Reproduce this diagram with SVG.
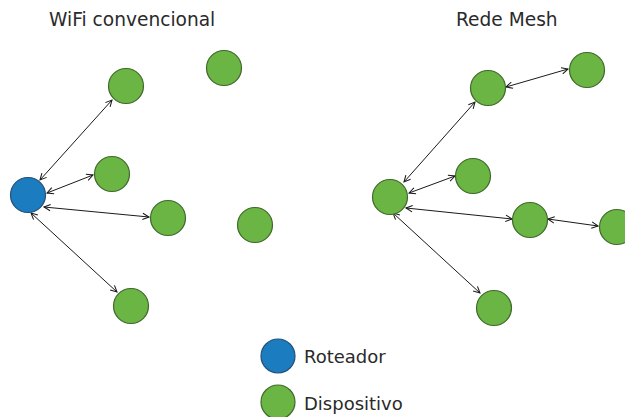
<svg xmlns="http://www.w3.org/2000/svg" width="625" height="417" viewBox="0 0 625 417">
<style>
.t{font-family:"DejaVu Sans",Verdana,sans-serif;font-size:18px;fill:#2a2a2a}
.h{font-size:18.6px}
.dev{fill:#6bb544;stroke:#3f6a2a;stroke-width:1.2}
.rt{fill:#1b7cc0;stroke:#23507a;stroke-width:1.2}
.c{stroke:#1a1a1a;stroke-width:1;fill:none;marker-start:url(#ah);marker-end:url(#ah)}
</style>
<defs>
<marker id="ah" viewBox="0 0 10 10" refX="9" refY="5" markerWidth="8" markerHeight="8" markerUnits="userSpaceOnUse" orient="auto-start-reverse">
<path d="M1,1 L9,5 L1,9" fill="none" stroke="#1a1a1a" stroke-width="1.3"/>
</marker>
</defs>
<text class="t h" x="49" y="26">WiFi convencional</text>
<text class="t h" x="456" y="26">Rede Mesh</text>
<g id="connectors">
<line class="c" x1="40" y1="180" x2="112" y2="100"/>
<line class="c" x1="47" y1="193" x2="93" y2="175"/>
<line class="c" x1="44" y1="207" x2="149" y2="217"/>
<line class="c" x1="31" y1="213" x2="117" y2="292"/>
<line class="c" x1="404" y1="182" x2="475" y2="102"/>
<line class="c" x1="409" y1="193" x2="455" y2="176"/>
<line class="c" x1="506" y1="87" x2="568" y2="69"/>
<line class="c" x1="406" y1="208" x2="512" y2="219"/>
<line class="c" x1="393" y1="213" x2="480" y2="293"/>
<line class="c" x1="548" y1="219" x2="598" y2="226"/>
</g>
<g id="router-wifi"><circle class="rt" cx="28" cy="195" r="17.5"/></g>
<g id="w1"><circle class="dev" cx="126" cy="86" r="17.5"/></g>
<g id="w2"><circle class="dev" cx="224" cy="68" r="17.5"/></g>
<g id="w3"><circle class="dev" cx="112" cy="174" r="17.5"/></g>
<g id="w4"><circle class="dev" cx="168" cy="218" r="17.5"/></g>
<g id="w5"><circle class="dev" cx="255" cy="225" r="17.5"/></g>
<g id="w6"><circle class="dev" cx="131" cy="306" r="17.5"/></g>
<g id="m0"><circle class="dev" cx="390" cy="197" r="17.5"/></g>
<g id="m1"><circle class="dev" cx="488" cy="88" r="17.5"/></g>
<g id="m2"><circle class="dev" cx="587" cy="70" r="17.5"/></g>
<g id="m3"><circle class="dev" cx="473" cy="176" r="17.5"/></g>
<g id="m4"><circle class="dev" cx="530" cy="220" r="17.5"/></g>
<g id="m5"><circle class="dev" cx="617" cy="227" r="17.5"/></g>
<g id="m6"><circle class="dev" cx="494" cy="308" r="17.5"/></g>
<g id="legend-router"><circle class="rt" cx="278" cy="356" r="17"/><text class="t" x="304" y="363">Roteador</text></g>
<g id="legend-device"><circle class="dev" cx="278" cy="402" r="17"/><text class="t" x="304" y="410">Dispositivo</text></g>
</svg>
